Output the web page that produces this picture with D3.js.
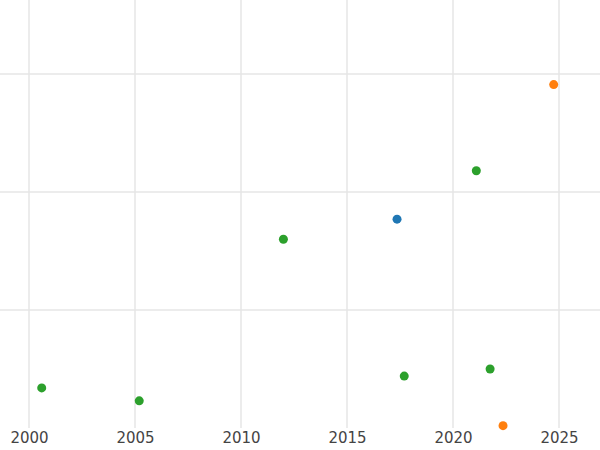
<!DOCTYPE html>
<html><head><meta charset="utf-8">
<script src="https://cdn.jsdelivr.net/npm/d3@7"></script>
<style>body{margin:0;background:#fff}</style></head>
<body><svg id="c" width="600" height="450"></svg>
<script>
const years = [2000.6, 2005.2, 2012.0, 2017.36, 2017.7, 2021.1, 2021.75, 2024.75, 2022.36];
const values = [0.34, 0.23, 1.6, 1.77, 0.44, 2.18, 0.5, 2.91, 0.02];
const groups = ["g","g","g","b","g","g","g","o","o"];
const xTicks = [2000, 2005, 2010, 2015, 2020, 2025];
const yTicks = [1, 2, 3];
const colors = {b:"#1f77b4", o:"#ff7f0e", g:"#2ca02c"};

const svg = d3.select("#c");
const x = d3.scaleLinear().domain([1998.632, 2026.934]).range([0, 600]);
const y = d3.scaleLinear().domain([0, 3.627]).range([428, 0]);

svg.append("g").selectAll("line").data(xTicks).join("line")
  .attr("x1", d=>x(d)).attr("x2", d=>x(d)).attr("y1", 0).attr("y2", 428)
  .attr("stroke", "#e6e6e6").attr("stroke-width", 1.5);
svg.append("g").selectAll("line").data(yTicks).join("line")
  .attr("x1", 0).attr("x2", 600).attr("y1", d=>y(d)).attr("y2", d=>y(d))
  .attr("stroke", "#e6e6e6").attr("stroke-width", 1.5);

const ax = svg.append("g").attr("transform", "translate(0,428)")
  .call(d3.axisBottom(x).tickValues(xTicks).tickFormat(d3.format("d")).tickSize(0).tickPadding(4));
ax.select(".domain").remove();
ax.selectAll("text").attr("font-family", "DejaVu Sans").attr("font-size", 15).attr("fill", "#444");

svg.append("g").selectAll("circle").data(years).join("circle")
  .attr("cx", d=>x(d)).attr("cy", (d,i)=>y(values[i])).attr("r", 4.5)
  .attr("fill", (d,i)=>colors[groups[i]]);
</script></body></html>
